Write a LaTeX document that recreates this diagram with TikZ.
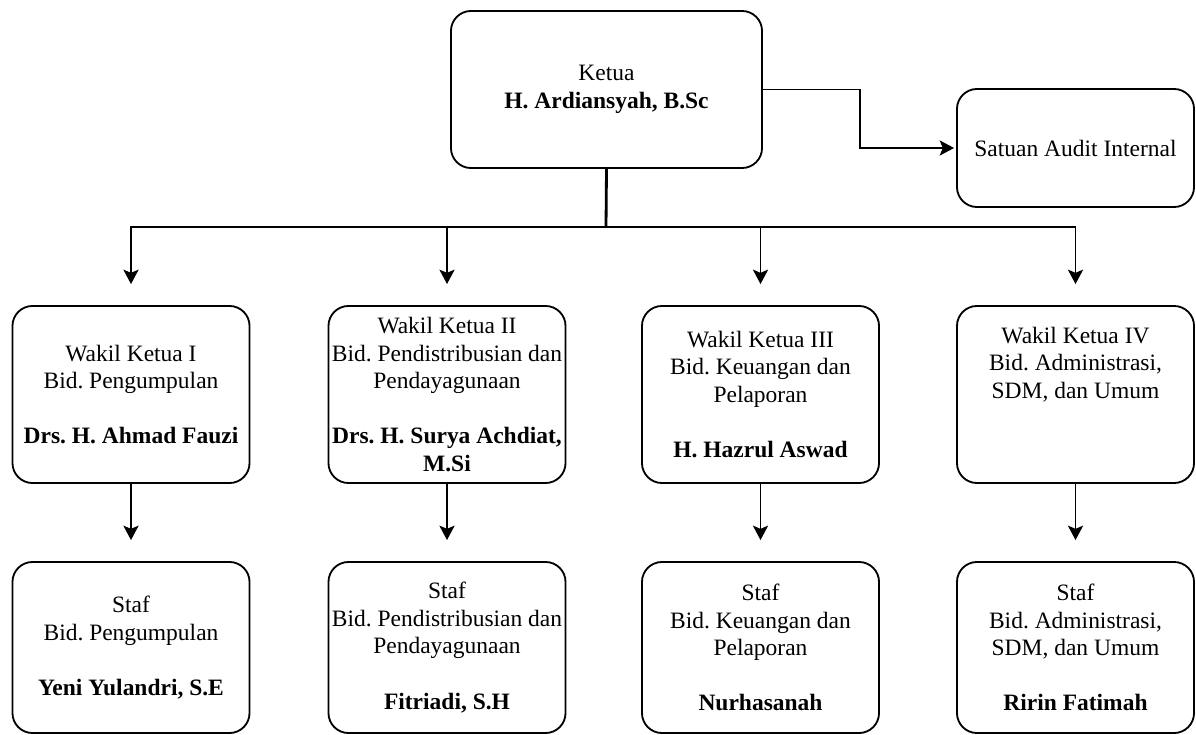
\documentclass[tikz,border=0pt]{standalone}
\usepackage{fontspec}
\setmainfont{Liberation Serif}
\usetikzlibrary{arrows.meta}
\frenchspacing

\begin{document}
\begin{tikzpicture}[
x=0.025cm,y=-0.025cm,
box/.style={draw,line width=1.3pt,rounded corners=0.5cm,align=center,inner sep=1pt,
  font=\fontsize{16.7}{19.6}\selectfont},
wakil/.style={box,minimum width=5.925cm,minimum height=4.425cm},
staf/.style={box,minimum width=5.925cm,minimum height=4.275cm},
link/.style={line width=1.2pt,-{Stealth[length=0.36cm,width=0.38cm,inset=0.08cm]}},
]
\useasboundingbox (0,0) rectangle (1196,735);
% ketua dan audit
\node[box,minimum width=7.775cm,minimum height=3.925cm] (ketua) at (606.5,89.5)
    {Ketua\\\textbf{H. Ardiansyah, B.Sc}};
\node[box,minimum width=5.925cm,minimum height=2.95cm] (sai) at (1075.5,148)
    {Satuan Audit Internal};
% wakil ketua
\node[wakil] (wk1) at (131,394.5)
    {Wakil Ketua I\\Bid. Pengumpulan\\[0.69cm]\textbf{Drs. H. Ahmad Fauzi}};
\node[wakil] (wk2) at (447,394.5)
    {Wakil Ketua II\\Bid. Pendistribusian dan\\Pendayagunaan\\[0.69cm]\textbf{Drs. H. Surya Achdiat,}\\\textbf{M.Si}};
\node[wakil] (wk3) at (760.5,394.5)
    {Wakil Ketua III\\Bid. Keuangan dan\\Pelaporan\\[0.69cm]\textbf{H. Hazrul Aswad}};
\node[wakil] (wk4) at (1075.5,394.5)
    {Wakil Ketua IV\\Bid. Administrasi,\\SDM, dan Umum\\[0.69cm]\strut};
% staf
\node[staf] (st1) at (131,647.5)
    {Staf\\Bid. Pengumpulan\\[0.69cm]\textbf{Yeni Yulandri, S.E}};
\node[staf] (st2) at (447,647.5)
    {Staf\\Bid. Pendistribusian dan\\Pendayagunaan\\[0.69cm]\textbf{Fitriadi, S.H}};
\node[staf] (st3) at (760.5,647.5)
    {Staf\\Bid. Keuangan dan\\Pelaporan\\[0.69cm]\textbf{Nurhasanah}};
\node[staf] (st4) at (1075.5,647.5)
    {Staf\\Bid. Administrasi,\\SDM, dan Umum\\[0.69cm]\textbf{Ririn Fatimah}};
% garis
\coordinate (bus) at (606,227);
\draw[line width=2pt] (ketua.south) -- (bus);
\draw[link,shorten >=0.05cm] (ketua.east) -- ++(97,0) |- (sai.west);
\foreach \i in {1,...,4}{
  \draw[link,shorten >=0.525cm] (bus) -| (wk\i.north);
  \draw[link,shorten >=0.525cm] (wk\i.south) -- (st\i.north);
}
\end{tikzpicture}
\end{document}
